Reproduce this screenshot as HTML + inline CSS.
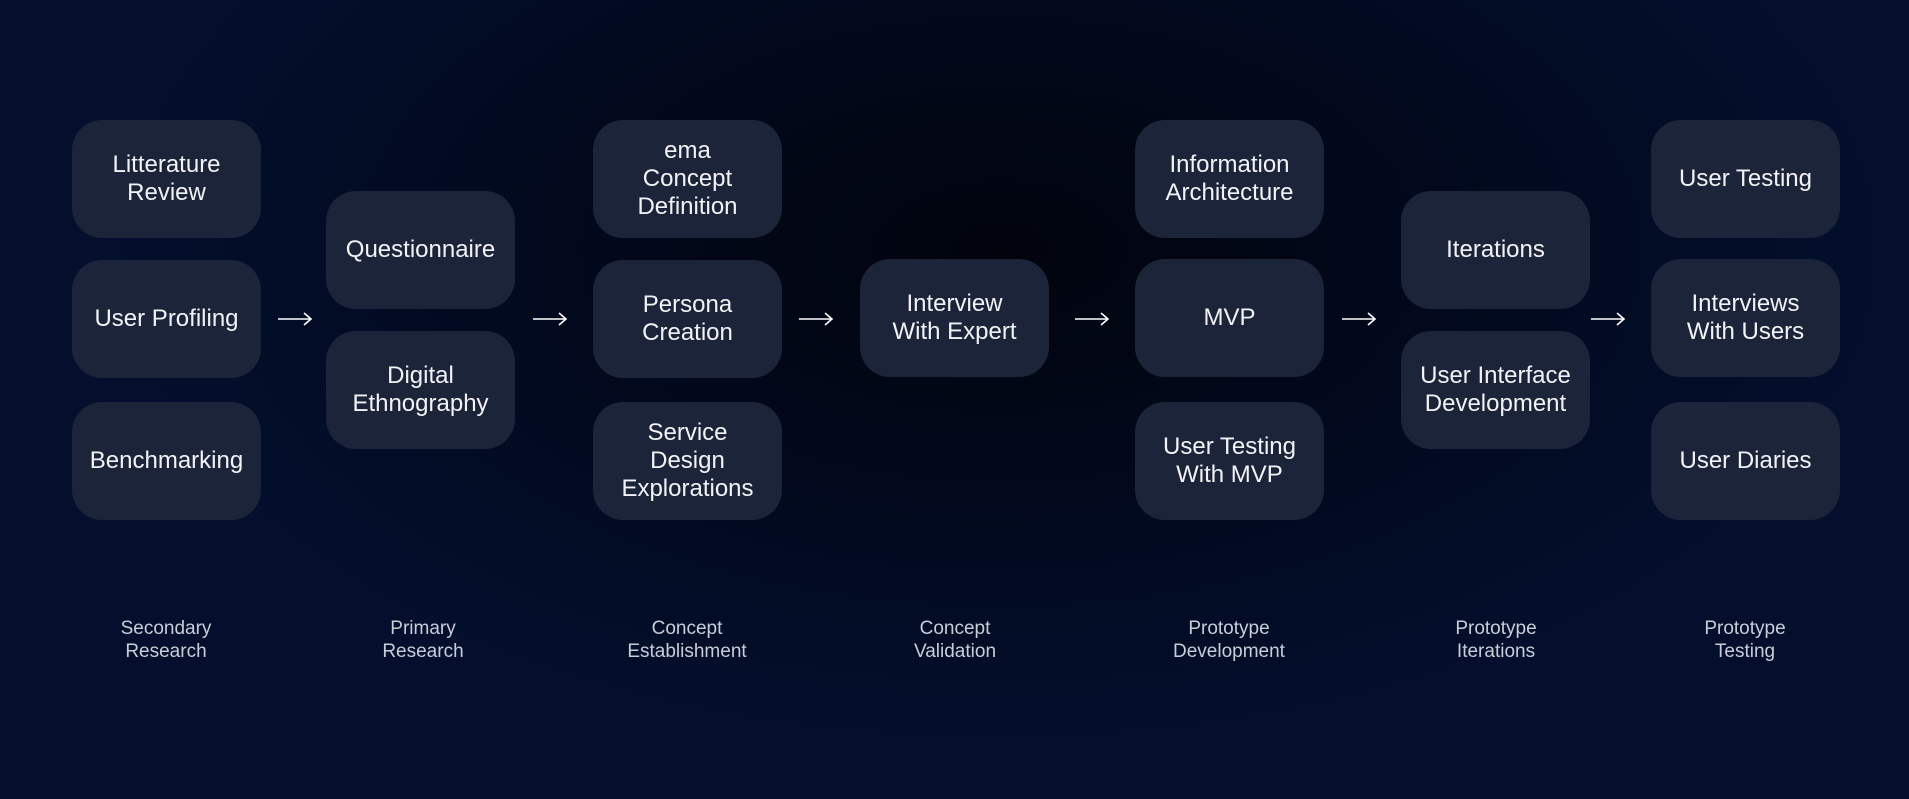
<!DOCTYPE html>
<html><head><meta charset="utf-8"><style>
html,body{margin:0;padding:0}
body{width:1909px;height:799px;overflow:hidden;position:relative;
background:radial-gradient(ellipse 900px 500px at 1000px 250px,#01040d 0%,#020a20 60%,#030f2d 100%);
font-family:"Liberation Sans","DejaVu Sans",sans-serif;}
.b{position:absolute;width:189px;height:118px;border-radius:30px;background:#1c2439;
display:flex;align-items:center;justify-content:center;text-align:center;color:#f2f3f6;font-size:24px;line-height:28px}
.a{position:absolute;width:34px;height:20px;color:#fff}
.l{position:absolute;width:220px;text-align:center;color:#c9cdd8;font-size:19px;line-height:23px;top:617px}
</style></head><body>
<div class="b" style="left:72px;top:120px">Litterature<br>Review</div>
<div class="b" style="left:72px;top:260px">User Profiling</div>
<div class="b" style="left:72px;top:402px">Benchmarking</div>
<div class="b" style="left:326px;top:191px">Questionnaire</div>
<div class="b" style="left:326px;top:331px">Digital<br>Ethnography</div>
<div class="b" style="left:593px;top:120px">ema<br>Concept<br>Definition</div>
<div class="b" style="left:593px;top:260px">Persona<br>Creation</div>
<div class="b" style="left:593px;top:402px">Service<br>Design<br>Explorations</div>
<div class="b" style="left:860px;top:259px">Interview<br>With Expert</div>
<div class="b" style="left:1135px;top:120px">Information<br>Architecture</div>
<div class="b" style="left:1135px;top:259px">MVP</div>
<div class="b" style="left:1135px;top:402px">User Testing<br>With MVP</div>
<div class="b" style="left:1401px;top:191px">Iterations</div>
<div class="b" style="left:1401px;top:331px">User Interface<br>Development</div>
<div class="b" style="left:1651px;top:120px">User Testing</div>
<div class="b" style="left:1651px;top:259px">Interviews<br>With Users</div>
<div class="b" style="left:1651px;top:402px">User Diaries</div>

<svg width="1909" height="799" style="position:absolute;left:0;top:0" fill="none" stroke="#fff" stroke-width="1.6">
<g id="ar">
<path d="M278 319H311M304 313L311 319L304 325"/>
<path d="M533 319H566M559 313L566 319L559 325"/>
<path d="M799 319H832M825 313L832 319L825 325"/>
<path d="M1075 319H1108M1101 313L1108 319L1101 325"/>
<path d="M1342 319H1375M1368 313L1375 319L1368 325"/>
<path d="M1591 319H1624M1617 313L1624 319L1617 325"/>
</g></svg>

<div class="l" style="left:56px">Secondary<br>Research</div>
<div class="l" style="left:313px">Primary<br>Research</div>
<div class="l" style="left:577px">Concept<br>Establishment</div>
<div class="l" style="left:845px">Concept<br>Validation</div>
<div class="l" style="left:1119px">Prototype<br>Development</div>
<div class="l" style="left:1386px">Prototype<br>Iterations</div>
<div class="l" style="left:1635px">Prototype<br>Testing</div>
</body></html>
